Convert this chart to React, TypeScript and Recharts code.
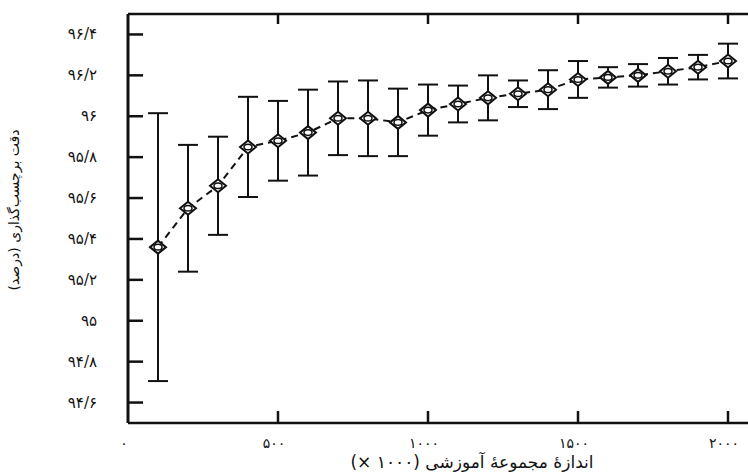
import React from 'react';
import { LineChart, Line, XAxis, YAxis, ErrorBar } from 'recharts';

// training set size (x 1000)
const sizes = [100, 200, 300, 400, 500, 600, 700, 800, 900, 1000, 1100, 1200, 1300, 1400, 1500, 1600, 1700, 1800, 1900, 2000];
// tagging accuracy (%)
const accuracy = [95.36, 95.55, 95.66, 95.85, 95.88, 95.92, 95.99, 95.99, 95.97, 96.03, 96.06, 96.09, 96.11, 96.13, 96.18, 96.19, 96.2, 96.22, 96.24, 96.27];
const errors = [0.655, 0.31, 0.24, 0.245, 0.195, 0.21, 0.18, 0.185, 0.165, 0.125, 0.09, 0.11, 0.065, 0.095, 0.09, 0.05, 0.055, 0.065, 0.06, 0.085];

const xTicks = [0, 500, 1000, 1500, 2000];
const xTickLabels = ['۰', '۵۰۰', '۱۰۰۰', '۱۵۰۰', '۲۰۰۰'];
const yTicks = [94.6, 94.8, 95, 95.2, 95.4, 95.6, 95.8, 96, 96.2, 96.4];
const yTickLabels = ['۹۴/۶', '۹۴/۸', '۹۵', '۹۵/۲', '۹۵/۴', '۹۵/۶', '۹۵/۸', '۹۶', '۹۶/۲', '۹۶/۴'];

const xTitle = 'اندازهٔ مجموعهٔ آموزشی (۱۰۰۰ ×)';
const yTitle = 'دقت برچسب‌گذاری (درصد)';

const data = sizes.map((s, i) => ({ size: s, acc: accuracy[i], err: errors[i] }));

const INK = '#111';
const FONT = '"DejaVu Sans", sans-serif';

const BottomTick = (props: any) => {
  const { x, y, payload, index } = props;
  return (
    <g>
      {payload.value > 0 && <line x1={x} y1={y} x2={x} y2={y - 12} stroke={INK} strokeWidth={2.5} />}
      <text x={x - 4} y={y + 25} textAnchor="middle" fontSize={14} letterSpacing={3} fontFamily={FONT} fill={INK}>
        {xTickLabels[index]}
      </text>
    </g>
  );
};

const TopTick = (props: any) => {
  const { x, y, payload } = props;
  if (payload.value <= 0) return <g />;
  return <line x1={x} y1={y} x2={x} y2={y + 10} stroke={INK} strokeWidth={2.5} />;
};

const LeftTick = (props: any) => {
  const { x, y, index } = props;
  return (
    <g>
      <line x1={x} y1={y} x2={x + 15} y2={y} stroke={INK} strokeWidth={2.5} />
      <text x={x - 31} y={y + 5} textAnchor="end" fontSize={15} letterSpacing={3} fontFamily={FONT} fill={INK}>
        {yTickLabels[index]}
      </text>
    </g>
  );
};

const RightTick = (props: any) => {
  const { x, y } = props;
  return <line x1={x} y1={y} x2={x - 9} y2={y} stroke={INK} strokeWidth={2.5} />;
};

const Diamond = (props: any) => {
  const { cx, cy, index } = props;
  return (
    <g key={'d' + index}>
      <polygon
        points={`${cx - 8},${cy} ${cx},${cy - 6.5} ${cx + 8},${cy} ${cx},${cy + 6.5}`}
        fill="#fff"
        stroke={INK}
        strokeWidth={2}
      />
      <ellipse cx={cx} cy={cy} rx={4} ry={2.8} fill="none" stroke={INK} strokeWidth={1.5} />
    </g>
  );
};

export default function App() {
  return (
    <div style={{ position: 'absolute', left: 0, top: 0, width: 748, height: 474, background: '#fff', overflow: 'hidden' }}>
      <LineChart width={752} height={474} data={data} margin={{ top: 0, right: 0, bottom: 0, left: 0 }}>
        <XAxis
          dataKey="size"
          type="number"
          domain={[0, 2080]}
          ticks={xTicks}
          height={51}
          tickLine={false}
          tickSize={0}
          tickMargin={0}
          axisLine={{ stroke: INK, strokeWidth: 2.5 }}
          tick={<BottomTick />}
          interval={0}
          label={{
            content: () => (
              <text x={472} y={468} textAnchor="middle" fontSize={17} fontFamily={FONT} fill={INK} style={{ direction: 'rtl' }}>
                {xTitle}
              </text>
            ),
          }}
        />
        <XAxis
          xAxisId="top"
          dataKey="size"
          type="number"
          orientation="top"
          domain={[0, 2080]}
          ticks={xTicks}
          height={14}
          tickLine={false}
          tickSize={0}
          tickMargin={0}
          axisLine={{ stroke: INK, strokeWidth: 2.5 }}
          tick={<TopTick />}
          interval={0}
        />
        <YAxis
          type="number"
          domain={[94.5, 96.5]}
          ticks={yTicks}
          width={128}
          tickLine={false}
          tickSize={0}
          tickMargin={0}
          axisLine={{ stroke: INK, strokeWidth: 3 }}
          tick={<LeftTick />}
          interval={0}
          label={{
            content: () => (
              <text
                x={19}
                y={210}
                transform="rotate(-90 19 210)"
                textAnchor="middle"
                fontSize={14}
                fontFamily={FONT}
                fill={INK}
                style={{ direction: 'rtl' }}
              >
                {yTitle}
              </text>
            ),
          }}
        />
        <YAxis
          yAxisId="right"
          orientation="right"
          type="number"
          domain={[94.5, 96.5]}
          ticks={yTicks}
          width={0}
          tickLine={false}
          tickSize={0}
          tickMargin={0}
          axisLine={false}
          tick={<RightTick />}
          interval={0}
        />
        <Line
          dataKey="acc"
          type="linear"
          stroke={INK}
          strokeWidth={2}
          strokeDasharray="7 5"
          dot={(p: any) => <Diamond key={'dot' + p.index} {...p} />}
          isAnimationActive={false}
        >
          <ErrorBar dataKey="err" direction="y" width={10} stroke={INK} strokeWidth={2} />
        </Line>
      </LineChart>
    </div>
  );
}
